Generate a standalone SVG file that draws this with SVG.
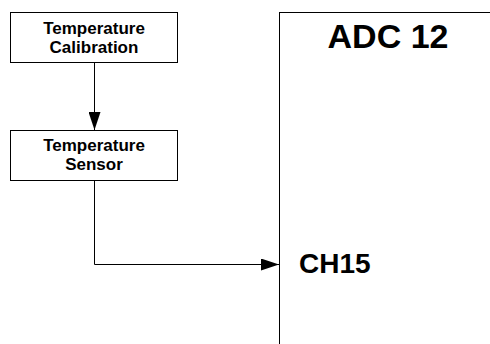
<svg xmlns="http://www.w3.org/2000/svg" width="490" height="344" viewBox="0 0 490 344">
<style>
.box{fill:#fff;stroke:#000;stroke-width:1}
.t{font-family:"Liberation Sans",Arial,sans-serif;font-weight:bold;fill:#000;text-anchor:middle}
.s{font-size:17px}
.line{fill:none;stroke:#000;stroke-width:1}
</style>
<defs>
<marker id="ah2" viewBox="0 0 18 12" refX="18" refY="6" markerWidth="18" markerHeight="12" markerUnits="userSpaceOnUse" orient="auto">
<path d="M0,0 L18,6 L0,12 Z" fill="#000"/>
</marker>
</defs>
<g id="calib">
<rect class="box" x="10.5" y="12.5" width="167" height="50"/>
<text class="t s" x="94" y="34">Temperature</text>
<text class="t s" x="94" y="53">Calibration</text>
</g>
<g id="sensor">
<rect class="box" x="10.5" y="130.5" width="167" height="50"/>
<text class="t s" x="94" y="151">Temperature</text>
<text class="t s" x="94" y="170">Sensor</text>
</g>
<g id="adc">
<rect class="box" x="279.5" y="12.5" width="220" height="340"/>
<text class="t" x="388" y="48" font-size="34">ADC 12</text>
<text class="t" x="299" y="273" font-size="28" style="text-anchor:start">CH15</text>
</g>
<g id="connectors">
<path class="line" d="M94.5,63 V130" marker-end="url(#ah2)"/>
<path class="line" d="M94.5,181 V264.5 H279" marker-end="url(#ah2)"/>
</g>
</svg>
